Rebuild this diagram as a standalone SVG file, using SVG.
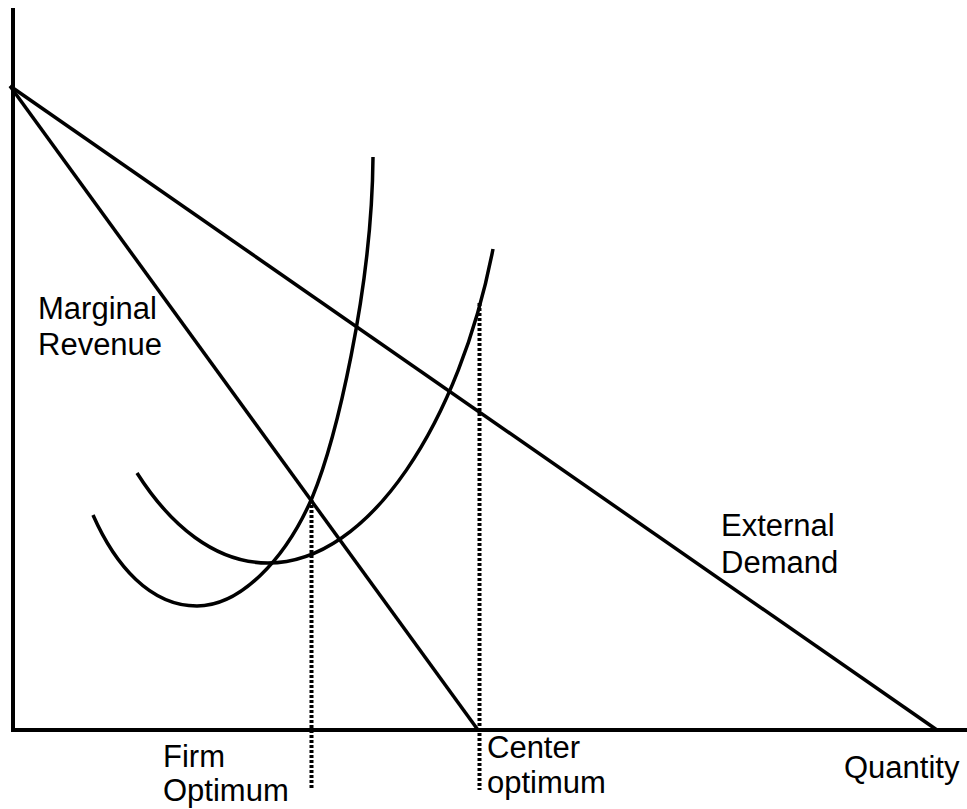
<svg xmlns="http://www.w3.org/2000/svg" width="967" height="809" viewBox="0 0 967 809">
<style>
.ln{fill:none;stroke:#000;stroke-width:3.5;stroke-linecap:butt}
.ax{fill:none;stroke:#000;stroke-width:4}
.dt{fill:none;stroke:#000;stroke-width:4;stroke-dasharray:3 2}
text{font-family:"Liberation Sans",Arial,sans-serif;font-size:31px;fill:#000}
</style>
<rect width="967" height="809" fill="#fff"/>
<g id="axes">
<line class="ax" x1="13" y1="8" x2="13" y2="732"/>
<line class="ax" x1="11" y1="730" x2="967" y2="730"/>
</g>
<g id="connectors">
<line class="ln" x1="10" y1="86" x2="937" y2="730"/>
<line class="ln" x1="10" y1="86" x2="478" y2="730"/>
<path class="ln" d="M93,515 C115,565 150,606 197,606 C240,606 285,560 312,498 C336,440 372,290 373,157"/>
<path class="ln" d="M137,473 C170,525 215,563 268,563 C370,563 460,420 493,249"/>
<line class="dt" x1="311.5" y1="500" x2="311.5" y2="788"/>
<line class="dt" x1="479.5" y1="303" x2="479.5" y2="790"/>
</g>
<g id="label-mr"><text x="38" y="319">Marginal</text><text x="38" y="355">Revenue</text></g>
<g id="label-demand"><text x="721" y="536">External</text><text x="721" y="573">Demand</text></g>
<g id="label-firm"><text x="163" y="767">Firm</text><text x="163" y="801">Optimum</text></g>
<g id="label-center"><text x="487" y="758">Center</text><text x="487" y="793">optimum</text></g>
<g id="label-quantity"><text x="844" y="778">Quantity</text></g>
</svg>
